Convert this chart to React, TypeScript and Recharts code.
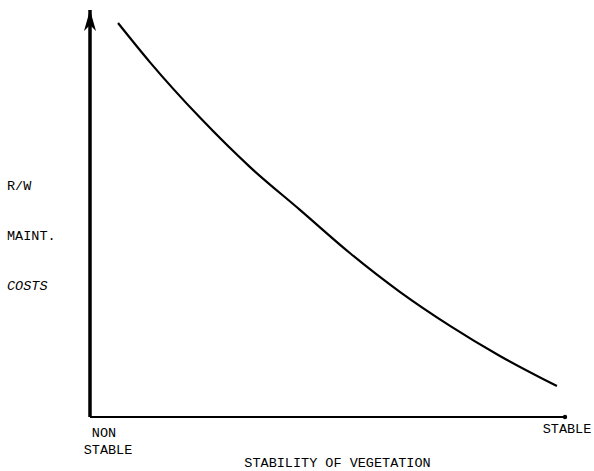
import React from "react";
import { LineChart, Line, XAxis, YAxis, ReferenceDot } from "recharts";

const stability = [5.9, 12.6, 23.2, 33.7, 44.2, 54.7, 65.3, 75.8, 86.3, 98.3];
const costs = [96.8, 87.2, 73.5, 61.4, 50.9, 40.3, 30.7, 22.4, 15.0, 7.6];
const xTickValues = [0, 100];
const xTickLabels = [["NON", "STABLE"], ["STABLE"]];
const yLabelLines = ["R/W", "MAINT.", "COSTS"];
const xTitle = "STABILITY OF VEGETATION";

const data = stability.map((s, i) => ({ s, c: costs[i] }));

const FONT = "'Liberation Mono', 'DejaVu Sans Mono', monospace";

const XTick = (props: any) => {
  const { x, y, payload } = props;
  const idx = xTickValues.indexOf(payload.value);
  if (idx === 0) {
    return (
      <g>
        <text x={x + 14} y={y + 20} textAnchor="middle" fontFamily={FONT} fontSize={13.5} fill="#000">
          {xTickLabels[0][0]}
        </text>
        <text x={x + 18} y={y + 37} textAnchor="middle" fontFamily={FONT} fontSize={13.5} fill="#000">
          {xTickLabels[0][1]}
        </text>
      </g>
    );
  }
  return (
    <text x={x + 2} y={y + 16} textAnchor="middle" fontFamily={FONT} fontSize={13.5} fill="#000">
      {xTickLabels[1][0]}
    </text>
  );
};

const YLabel = (props: any) => {
  const vb = props.viewBox || { x: 89, y: 10, height: 407 };
  const x = vb.x - 82;
  const ys = [180, 230, 280];
  return (
    <g>
      {yLabelLines.map((t, i) => (
        <text
          key={t}
          x={x}
          y={vb.y + ys[i]}
          fontFamily={FONT}
          fontSize={13.5}
          fontStyle={i === 2 ? "italic" : "normal"}
          fill="#000"
        >
          {t}
        </text>
      ))}
    </g>
  );
};

const XLabel = (props: any) => {
  const vb = props.viewBox || { x: 90, y: 417, width: 475 };
  return (
    <text
      x={vb.x + vb.width / 2 + 10}
      y={vb.y + 50}
      textAnchor="middle"
      fontFamily={FONT}
      fontSize={13.5}
      fill="#000"
    >
      {xTitle}
    </text>
  );
};

const ArrowHead = (props: any) => {
  const { cx, cy } = props;
  return <polygon points={`${cx},${cy} ${cx - 6},${cy + 21} ${cx},${cy + 15} ${cx + 6},${cy + 21}`} fill="#000" />;
};

const EndDot = (props: any) => {
  const { cx, cy } = props;
  return <circle cx={cx} cy={cy} r={2.2} fill="#000" />;
};

export default function App() {
  return (
    <div style={{ position: "absolute", left: 0, top: 0, width: 594, height: 471, background: "#fff" }}>
      <LineChart width={594} height={471} data={data} margin={{ top: 10, right: 29, bottom: 53, left: 89 }}>
        <XAxis
          type="number"
          dataKey="s"
          domain={[0, 100]}
          ticks={xTickValues}
          tick={<XTick />}
          tickLine={false}
          tickSize={0}
          tickMargin={0}
          height={1}
          axisLine={{ stroke: "#000", strokeWidth: 2 }}
          label={{ content: <XLabel /> }}
          interval={0}
        />
        <YAxis
          type="number"
          domain={[0, 100]}
          width={1}
          tick={false}
          tickLine={false}
          axisLine={{ stroke: "#000", strokeWidth: 3.5 }}
          label={{ content: <YLabel /> }}
        />
        <ReferenceDot x={0} y={100} r={0} ifOverflow="visible" shape={<ArrowHead />} />
        <ReferenceDot x={100} y={0} r={0} ifOverflow="visible" shape={<EndDot />} />
        <Line
          type="monotone"
          dataKey="c"
          stroke="#000"
          strokeWidth={2.2}
          dot={false}
          isAnimationActive={false}
        />
      </LineChart>
    </div>
  );
}
